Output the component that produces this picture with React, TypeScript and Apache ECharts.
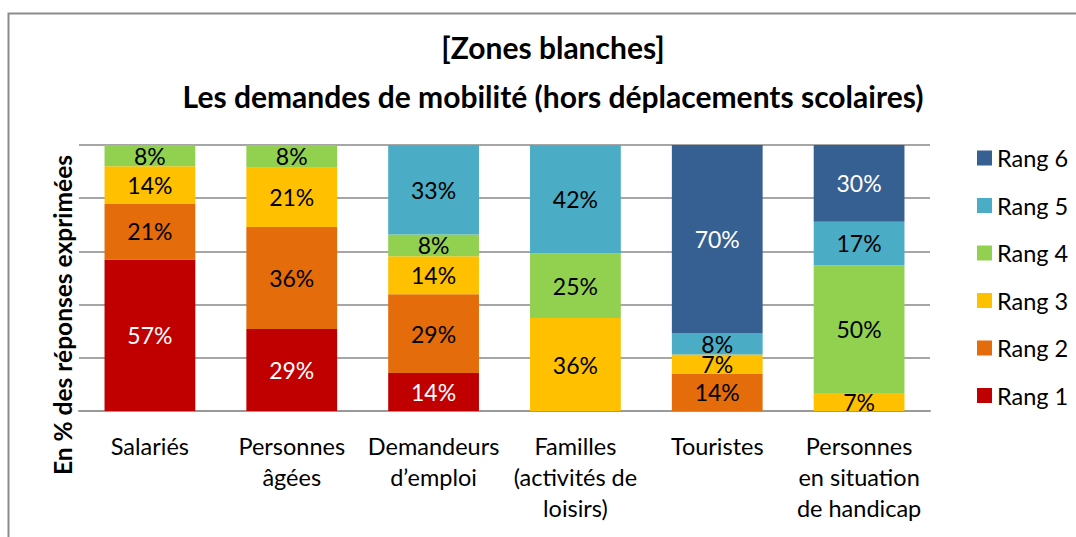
import React, { useEffect, useRef } from "react";
import * as echarts from "echarts";

const categories = [
  "Salariés",
  "Personnes\nâgées",
  "Demandeurs\nd\u2019emploi",
  "Familles\n(activités de\nloisirs)",
  "Touristes",
  "Personnes\nen situation\nde handicap",
];

const seriesNames = ["Rang 1", "Rang 2", "Rang 3", "Rang 4", "Rang 5", "Rang 6"];
const colors = ["#C00000", "#E46C0A", "#FFC000", "#92D050", "#4BACC6", "#376092"];
const labelColors = ["#FFFFFF", "#000000", "#000000", "#000000", "#000000", "#FFFFFF"];

// percentages shown on the chart (null = absent)
const rang1 = [57, 29, 14, null, null, null];
const rang2 = [21, 36, 29, null, 14, null];
const rang3 = [14, 21, 14, 36, 7, 7];
const rang4 = [8, 8, 8, 25, null, 50];
const rang5 = [null, null, 33, 42, 8, 17];
const rang6 = [null, null, null, null, 70, 30];

const allRanks = [rang1, rang2, rang3, rang4, rang5, rang6];

export default function App() {
  const ref = useRef<HTMLDivElement>(null);
  useEffect(() => {
    if (!ref.current) return;
    const chart = echarts.init(ref.current, undefined, { renderer: "svg" });
    const totals = categories.map((_, i) =>
      allRanks.reduce((s, r) => s + (r[i] ?? 0), 0)
    );
    const font = "Lato, 'Open Sans', sans-serif";
    const series = allRanks.map((r, k) => ({
      name: seriesNames[k],
      type: "bar",
      stack: "total",
      barWidth: "64%",
      itemStyle: { color: colors[k] },
      label: {
        show: true,
        position: "inside",
        color: labelColors[k],
        fontSize: 23,
        lineHeight: 18,
        fontFamily: font,
        formatter: (p: any) => (r[p.dataIndex] == null ? "" : r[p.dataIndex] + "%"),
      },
      data: r.map((v, i) => (v == null ? null : (v / totals[i]) * 100)),
    }));
    chart.setOption({
      animation: false,
      backgroundColor: "#ffffff",
      title: {
        text: "[Zones blanches]\nLes demandes de mobilité (hors déplacements scolaires)",
        left: 548,
        textAlign: "center",
        top: 17,
        textStyle: {
          fontSize: 30,
          fontWeight: "bold",
          fontFamily: font,
          color: "#000",
          lineHeight: 49,
        },
      },
      legend: {
        orient: "vertical",
        left: 972,
        top: 141,
        data: ["Rang 6", "Rang 5", "Rang 4", "Rang 3", "Rang 2", "Rang 1"],
        itemWidth: 15,
        itemHeight: 15,
        itemGap: 23.5,
        icon: "rect",
        textStyle: {
          fontSize: 23.5,
          lineHeight: 24,
          fontFamily: font,
          color: "#000",
          padding: [0, 0, 0, 0],
        },
      },
      grid: { left: 79, right: 146, top: 145, bottom: 126 },
      xAxis: {
        type: "category",
        data: categories,
        axisTick: { show: false },
        axisLine: { lineStyle: { color: "#999999", width: 2 } },
        axisLabel: {
          fontSize: 23.5,
          fontFamily: font,
          color: "#000",
          lineHeight: 31,
          margin: 19,
          interval: 0,
        },
      },
      yAxis: {
        type: "value",
        min: 0,
        max: 100,
        interval: 20,
        axisLabel: { show: false },
        axisLine: { show: false },
        axisTick: { show: false },
        splitLine: { lineStyle: { color: "#A6A6A6", width: 2 } },
      },
      graphic: [
        {
          type: "rect",
          shape: { x: 8.5, y: 13.5, width: 1200, height: 700 },
          style: { fill: "none", stroke: "#8C8C8C", lineWidth: 2 },
          silent: true,
        },
        {
          type: "text",
          x: 62,
          y: 315,
          rotation: Math.PI / 2,
          style: {
            text: "En % des réponses exprimées",
            fontSize: 24.5,
            fontWeight: "bold",
            fontFamily: font,
            fill: "#000",
            align: "center",
            verticalAlign: "middle",
          },
        },
      ],
      series,
    });
    return () => chart.dispose();
  }, []);
  return (
    <div
      ref={ref}
      style={{ position: "absolute", left: 0, top: 0, width: 1076, height: 537 }}
    />
  );
}
